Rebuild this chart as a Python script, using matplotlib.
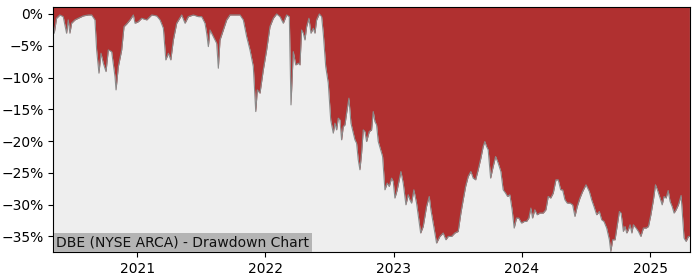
import matplotlib
matplotlib.use("Agg")
import matplotlib.pyplot as plt
import matplotlib.ticker as mticker
import matplotlib.dates as mdates
import pandas as pd
import numpy as np

# Decimal-year dates and drawdown values (%)
years = [
    2020.345, 2020.353, 2020.371, 2020.397, 2020.423, 2020.449, 2020.462, 2020.475, 2020.488, 2020.514,
    2020.540, 2020.579, 2020.618, 2020.644, 2020.670, 2020.683, 2020.701, 2020.717, 2020.735, 2020.756,
    2020.774, 2020.800, 2020.826, 2020.834, 2020.852, 2020.878, 2020.896, 2020.917, 2020.943, 2020.969,
    2020.982, 2021.008, 2021.034, 2021.073, 2021.112, 2021.151, 2021.177, 2021.203, 2021.222, 2021.242,
    2021.261, 2021.281, 2021.307, 2021.346, 2021.372, 2021.398, 2021.437, 2021.476, 2021.502, 2021.528,
    2021.541, 2021.554, 2021.567, 2021.593, 2021.619, 2021.632, 2021.645, 2021.671, 2021.697, 2021.723,
    2021.775, 2021.801, 2021.827, 2021.853, 2021.879, 2021.905, 2021.924, 2021.936, 2021.957, 2021.983,
    2022.009, 2022.035, 2022.061, 2022.087, 2022.113, 2022.139, 2022.165, 2022.186, 2022.199, 2022.217,
    2022.236, 2022.256, 2022.269, 2022.282, 2022.295, 2022.308, 2022.321, 2022.339, 2022.355, 2022.373,
    2022.386, 2022.399, 2022.420, 2022.438, 2022.451, 2022.470, 2022.490, 2022.509, 2022.529, 2022.542,
    2022.555, 2022.568, 2022.581, 2022.594, 2022.607, 2022.620, 2022.633, 2022.651, 2022.667, 2022.685,
    2022.698, 2022.711, 2022.724, 2022.737, 2022.750, 2022.763, 2022.776, 2022.789, 2022.810, 2022.828,
    2022.841, 2022.854, 2022.867, 2022.880, 2022.899, 2022.914, 2022.932, 2022.950, 2022.966, 2022.984,
    2022.997, 2023.010, 2023.028, 2023.044, 2023.057, 2023.075, 2023.096, 2023.114, 2023.127, 2023.140,
    2023.158, 2023.179, 2023.197, 2023.211, 2023.231, 2023.257, 2023.278, 2023.291, 2023.309, 2023.322,
    2023.335, 2023.361, 2023.387, 2023.408, 2023.426, 2023.452, 2023.478, 2023.504, 2023.525, 2023.543,
    2023.562, 2023.582, 2023.603, 2023.621, 2023.640, 2023.660, 2023.681, 2023.699, 2023.712, 2023.725,
    2023.738, 2023.757, 2023.777, 2023.796, 2023.816, 2023.837, 2023.855, 2023.874, 2023.889, 2023.907,
    2023.925, 2023.941, 2023.959, 2023.977, 2023.998, 2024.019, 2024.037, 2024.055, 2024.071, 2024.084,
    2024.102, 2024.120, 2024.141, 2024.167, 2024.188, 2024.206, 2024.225, 2024.245, 2024.266, 2024.284,
    2024.303, 2024.318, 2024.336, 2024.354, 2024.375, 2024.396, 2024.414, 2024.432, 2024.453, 2024.474,
    2024.500, 2024.526, 2024.544, 2024.562, 2024.583, 2024.604, 2024.622, 2024.640, 2024.661, 2024.682,
    2024.693, 2024.708, 2024.726, 2024.744, 2024.760, 2024.773, 2024.791, 2024.804, 2024.817, 2024.830,
    2024.843, 2024.857, 2024.869, 2024.890, 2024.908, 2024.927, 2024.947, 2024.968, 2024.986, 2025.005,
    2025.025, 2025.041, 2025.056, 2025.077, 2025.093, 2025.108, 2025.124, 2025.140, 2025.155, 2025.171,
    2025.186, 2025.202, 2025.220, 2025.241, 2025.254, 2025.264, 2025.280, 2025.298, 2025.306,
]
drawdown = [
    -1.46, -3.03, -0.68, -0.16, -0.42, -3.03, -0.94, -3.03, -1.46, -0.94,
    -0.68, -0.31, -0.16, -0.16, -0.94, -5.66, -9.32, -6.18, -7.75, -9.07,
    -5.66, -5.93, -9.86, -11.95, -8.28, -5.66, -2.00, -1.57, -0.94, -0.16,
    -1.46, -1.21, -0.68, -0.94, -0.16, -0.31, -0.94, -2.25, -7.23, -6.18,
    -7.23, -4.09, -1.46, -0.16, -1.46, -0.42, -0.16, -0.42, -0.42, -1.46,
    -3.03, -5.14, -2.52, -3.57, -4.61, -8.54, -4.09, -2.52, -0.94, -0.16,
    -0.16, -0.16, -0.94, -3.57, -5.66, -8.28, -15.36, -11.95, -12.47, -8.80,
    -5.66, -2.00, -0.68, 0.00, -0.42, -1.46, -0.16, -0.42, -14.31, -5.93,
    -8.02, -7.75, -8.02, -2.52, -3.03, -4.09, -2.00, -0.68, -3.03, -2.25,
    -3.03, -0.94, 0.00, -0.42, -3.03, -8.28, -10.89, -16.66, -18.75, -17.18,
    -18.24, -16.40, -16.66, -19.81, -17.72, -17.45, -15.61, -13.25, -17.18, -18.75,
    -19.81, -20.33, -22.95, -24.52, -21.90, -18.24, -18.50, -20.07, -18.50, -18.24,
    -15.36, -16.93, -17.45, -20.07, -21.38, -22.43, -27.67, -26.61, -27.15, -25.83,
    -26.36, -28.97, -27.67, -26.10, -24.79, -26.61, -30.03, -28.45, -29.24, -29.76,
    -27.67, -29.76, -32.38, -34.47, -33.44, -30.29, -28.72, -30.81, -32.90, -34.47,
    -36.05, -35.01, -34.47, -35.53, -35.01, -35.01, -34.47, -34.22, -31.33, -29.24,
    -27.15, -25.58, -24.79, -25.83, -26.10, -24.52, -22.68, -20.86, -20.07, -20.86,
    -21.38, -25.83, -24.00, -22.43, -23.47, -24.79, -27.67, -28.19, -28.72, -28.45,
    -30.81, -33.69, -32.12, -32.12, -32.90, -32.65, -32.65, -32.12, -30.54, -32.12,
    -30.81, -31.60, -31.33, -31.33, -30.81, -28.72, -28.97, -28.19, -26.10, -26.10,
    -27.67, -27.67, -29.24, -29.76, -29.76, -30.03, -31.86, -30.29, -28.97, -27.93,
    -26.88, -27.93, -29.24, -30.29, -31.60, -31.08, -32.38, -32.65, -33.69, -35.53,
    -37.37, -35.53, -35.53, -33.17, -31.08, -31.33, -34.22, -33.44, -34.47, -33.96,
    -33.17, -34.47, -33.17, -33.69, -34.22, -35.01, -33.69, -33.69, -33.44, -31.60,
    -29.24, -26.88, -27.67, -28.97, -30.03, -28.72, -28.97, -27.78, -29.51, -30.29,
    -31.33, -30.81, -30.03, -28.56, -32.38, -35.26, -35.79, -35.01, -35.01,
]
y_ticks = [0, -5, -10, -15, -20, -25, -30, -35]
title_text = "DBE (NYSE ARCA) - Drawdown Chart"


def decimal_year_to_ts(t):
    yr = int(np.floor(t))
    start = pd.Timestamp(year=yr, month=1, day=1)
    end = pd.Timestamp(year=yr + 1, month=1, day=1)
    return start + (end - start) * (t - yr)


dates = pd.to_datetime([decimal_year_to_ts(t) for t in years])

y_top = 1.05
y_bottom = -37.5

fig = plt.figure(figsize=(7, 2.8), dpi=100)
ax = fig.add_axes([0.076, 0.099, 0.910, 0.875])
ax.set_facecolor("#eeeeee")

ax.fill_between(dates, drawdown, y_top + 1, color="#b03030", linewidth=0)
ax.plot(dates, drawdown, color="#8a8a8a", linewidth=0.8)

ax.set_xlim(dates[0], decimal_year_to_ts(2025.312))
ax.set_ylim(y_bottom, y_top)
ax.set_yticks(y_ticks)
ax.yaxis.set_major_formatter(mticker.PercentFormatter(xmax=100, decimals=0))

ax.xaxis.set_major_locator(mdates.YearLocator())
ax.xaxis.set_major_formatter(mdates.DateFormatter("%Y"))
ax.tick_params(labelsize=10)

ax.text(0.005, 0.012, title_text, transform=ax.transAxes, ha="left", va="bottom",
        fontsize=10, color="#111111",
        bbox=dict(facecolor="#b4b4b4", edgecolor="none", pad=2))

fig.savefig("out.png", dpi=100)
